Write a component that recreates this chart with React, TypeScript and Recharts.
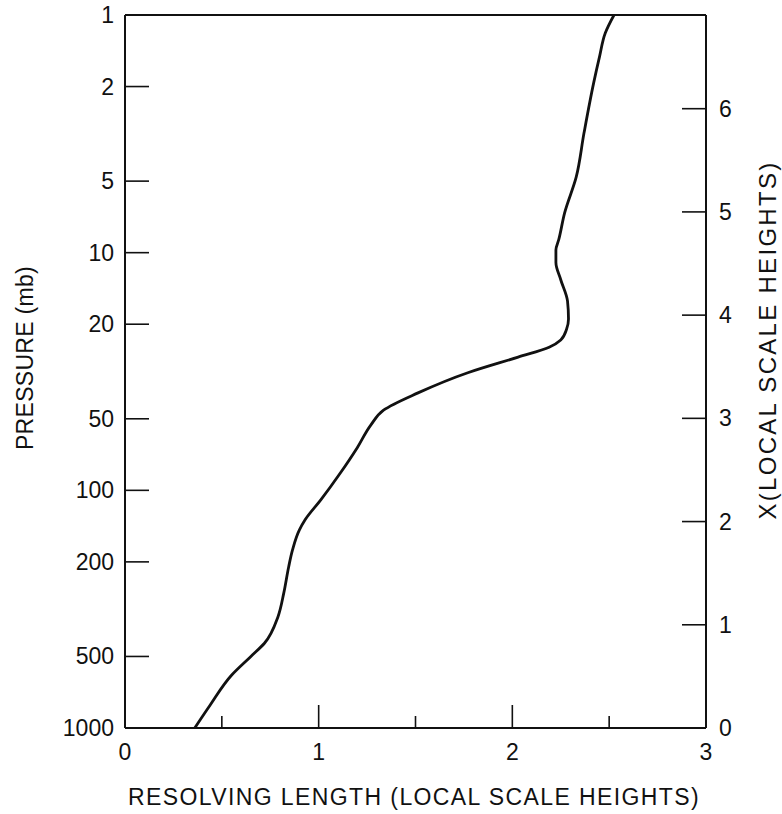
import React from 'react';
import { ComposedChart, Line, XAxis, YAxis, ReferenceLine } from 'recharts';

// Pressure levels (mb), top of chart to bottom
const pressure = [1, 1.19, 1.5, 1.93, 3.14, 4.8, 6.8, 8.8, 9.75, 11, 13, 16, 19, 21, 23.3, 25, 27.5, 32, 39, 46, 53, 66, 85, 110, 133, 147, 178, 210, 270, 340, 440, 500, 600, 800, 1000];
// Resolving length (local scale heights) at each level
const resolving = [2.525, 2.48, 2.45, 2.42, 2.37, 2.33, 2.27, 2.24, 2.225, 2.225, 2.25, 2.285, 2.29, 2.28, 2.25, 2.19, 2.03, 1.77, 1.51, 1.335, 1.27, 1.2, 1.11, 1.01, 0.93, 0.9, 0.865, 0.845, 0.82, 0.79, 0.72, 0.65, 0.55, 0.44, 0.36];

const pressureTicks = [1, 2, 5, 10, 20, 50, 100, 200, 500, 1000];
const lengthTicks = [0, 0.5, 1, 1.5, 2, 2.5, 3];
const heightTicks = [0, 1, 2, 3, 4, 5, 6];

const xTitle = 'RESOLVING LENGTH (LOCAL SCALE HEIGHTS)';
const leftTitle = 'PRESSURE (mb)';
const rightTitle = 'X(LOCAL SCALE HEIGHTS)';

const P_SURFACE = 1000;
// X = ln(p_surface / p), the height in local scale heights
const data = pressure.map((p, i) => ({ p, v: resolving[i], X: Math.log(P_SURFACE / p) }));

const FONT = '"Liberation Sans", Arial, sans-serif';
const INK = '#111';

const LeftTick = (props: any) => {
  const { x, y, payload } = props;
  const v = payload.value;
  return (
    <g>
      {v !== 1 && v !== 1000 && (
        <line x1={x} x2={x + 24} y1={y} y2={y} stroke={INK} strokeWidth={1.6} />
      )}
      <text x={x - 11} y={y} dy={8} textAnchor="end" fontSize={23} fontFamily={FONT} fill={INK}>
        {v}
      </text>
    </g>
  );
};

const RightTick = (props: any) => {
  const { x, y, payload } = props;
  const v = payload.value;
  return (
    <g>
      {v !== 0 && <line x1={x - 24} x2={x} y1={y} y2={y} stroke={INK} strokeWidth={1.6} />}
      <text x={x + 13} y={y} dy={8} textAnchor="start" fontSize={23} fontFamily={FONT} fill={INK}>
        {v}
      </text>
    </g>
  );
};

const BottomTick = (props: any) => {
  const { x, y, payload } = props;
  const v = payload.value;
  const major = Number.isInteger(v);
  const edge = v === 0 || v === 3;
  return (
    <g>
      {!edge && (
        <line x1={x} x2={x} y1={y} y2={y - (major ? 23 : 12)} stroke={INK} strokeWidth={1.6} />
      )}
      {major && (
        <text x={x} y={y + 32} textAnchor="middle" fontSize={23} fontFamily={FONT} fill={INK}>
          {v}
        </text>
      )}
    </g>
  );
};

export default function App() {
  return (
    <div style={{ position: 'absolute', left: 0, top: 0, width: 782, height: 814, background: '#fff' }}>
      <ComposedChart
        width={782}
        height={814}
        data={data}
        layout="vertical"
        margin={{ top: 15, right: 0, bottom: 0, left: 0 }}
      >
        <XAxis
          type="number"
          dataKey="v"
          domain={[0, 3]}
          ticks={lengthTicks}
          interval={0}
          allowDataOverflow
          height={86}
          tickSize={0}
          tickMargin={0}
          tickLine={false}
          axisLine={{ stroke: INK, strokeWidth: 2 }}
          tick={<BottomTick />}
        />
        <YAxis
          yAxisId="left"
          type="number"
          dataKey="p"
          scale="log"
          domain={[1, 1000]}
          ticks={pressureTicks}
          interval={0}
          allowDataOverflow
          width={125}
          tickSize={0}
          tickMargin={0}
          tickLine={false}
          axisLine={{ stroke: INK, strokeWidth: 2 }}
          tick={<LeftTick />}
        />
        <YAxis
          yAxisId="right"
          orientation="right"
          type="number"
          dataKey="X"
          domain={[0, Math.log(P_SURFACE)]}
          ticks={heightTicks}
          interval={0}
          reversed
          allowDataOverflow
          width={76}
          tickSize={0}
          tickMargin={0}
          tickLine={false}
          axisLine={{ stroke: INK, strokeWidth: 2 }}
          tick={<RightTick />}
        />
        <ReferenceLine yAxisId="left" y={1} stroke={INK} strokeWidth={2} ifOverflow="extendDomain" />
        <Line
          yAxisId="right"
          dataKey="v"
          type="monotone"
          stroke="none"
          strokeWidth={0}
          dot={false}
          activeDot={false}
          legendType="none"
          isAnimationActive={false}
        />
        <Line
          yAxisId="left"
          dataKey="v"
          type="monotone"
          stroke={INK}
          strokeWidth={2.8}
          dot={false}
          activeDot={false}
          isAnimationActive={false}
        />
      </ComposedChart>
      <svg
        width={782}
        height={814}
        style={{ position: 'absolute', left: 0, top: 0, pointerEvents: 'none' }}
      >
        <text x={414} y={805} textAnchor="middle" fontSize={23} letterSpacing={1.4} fontFamily={FONT} fill={INK}>
          {xTitle}
        </text>
        <text
          transform="translate(33,358) rotate(-90)"
          textAnchor="middle"
          fontSize={23}
          letterSpacing={0.3}
          fontFamily={FONT}
          fill={INK}
        >
          {leftTitle}
        </text>
        <text
          transform="translate(776,340) rotate(-90)"
          textAnchor="middle"
          fontSize={24}
          letterSpacing={2.3}
          fontFamily={FONT}
          fill={INK}
        >
          {rightTitle}
        </text>
      </svg>
    </div>
  );
}
